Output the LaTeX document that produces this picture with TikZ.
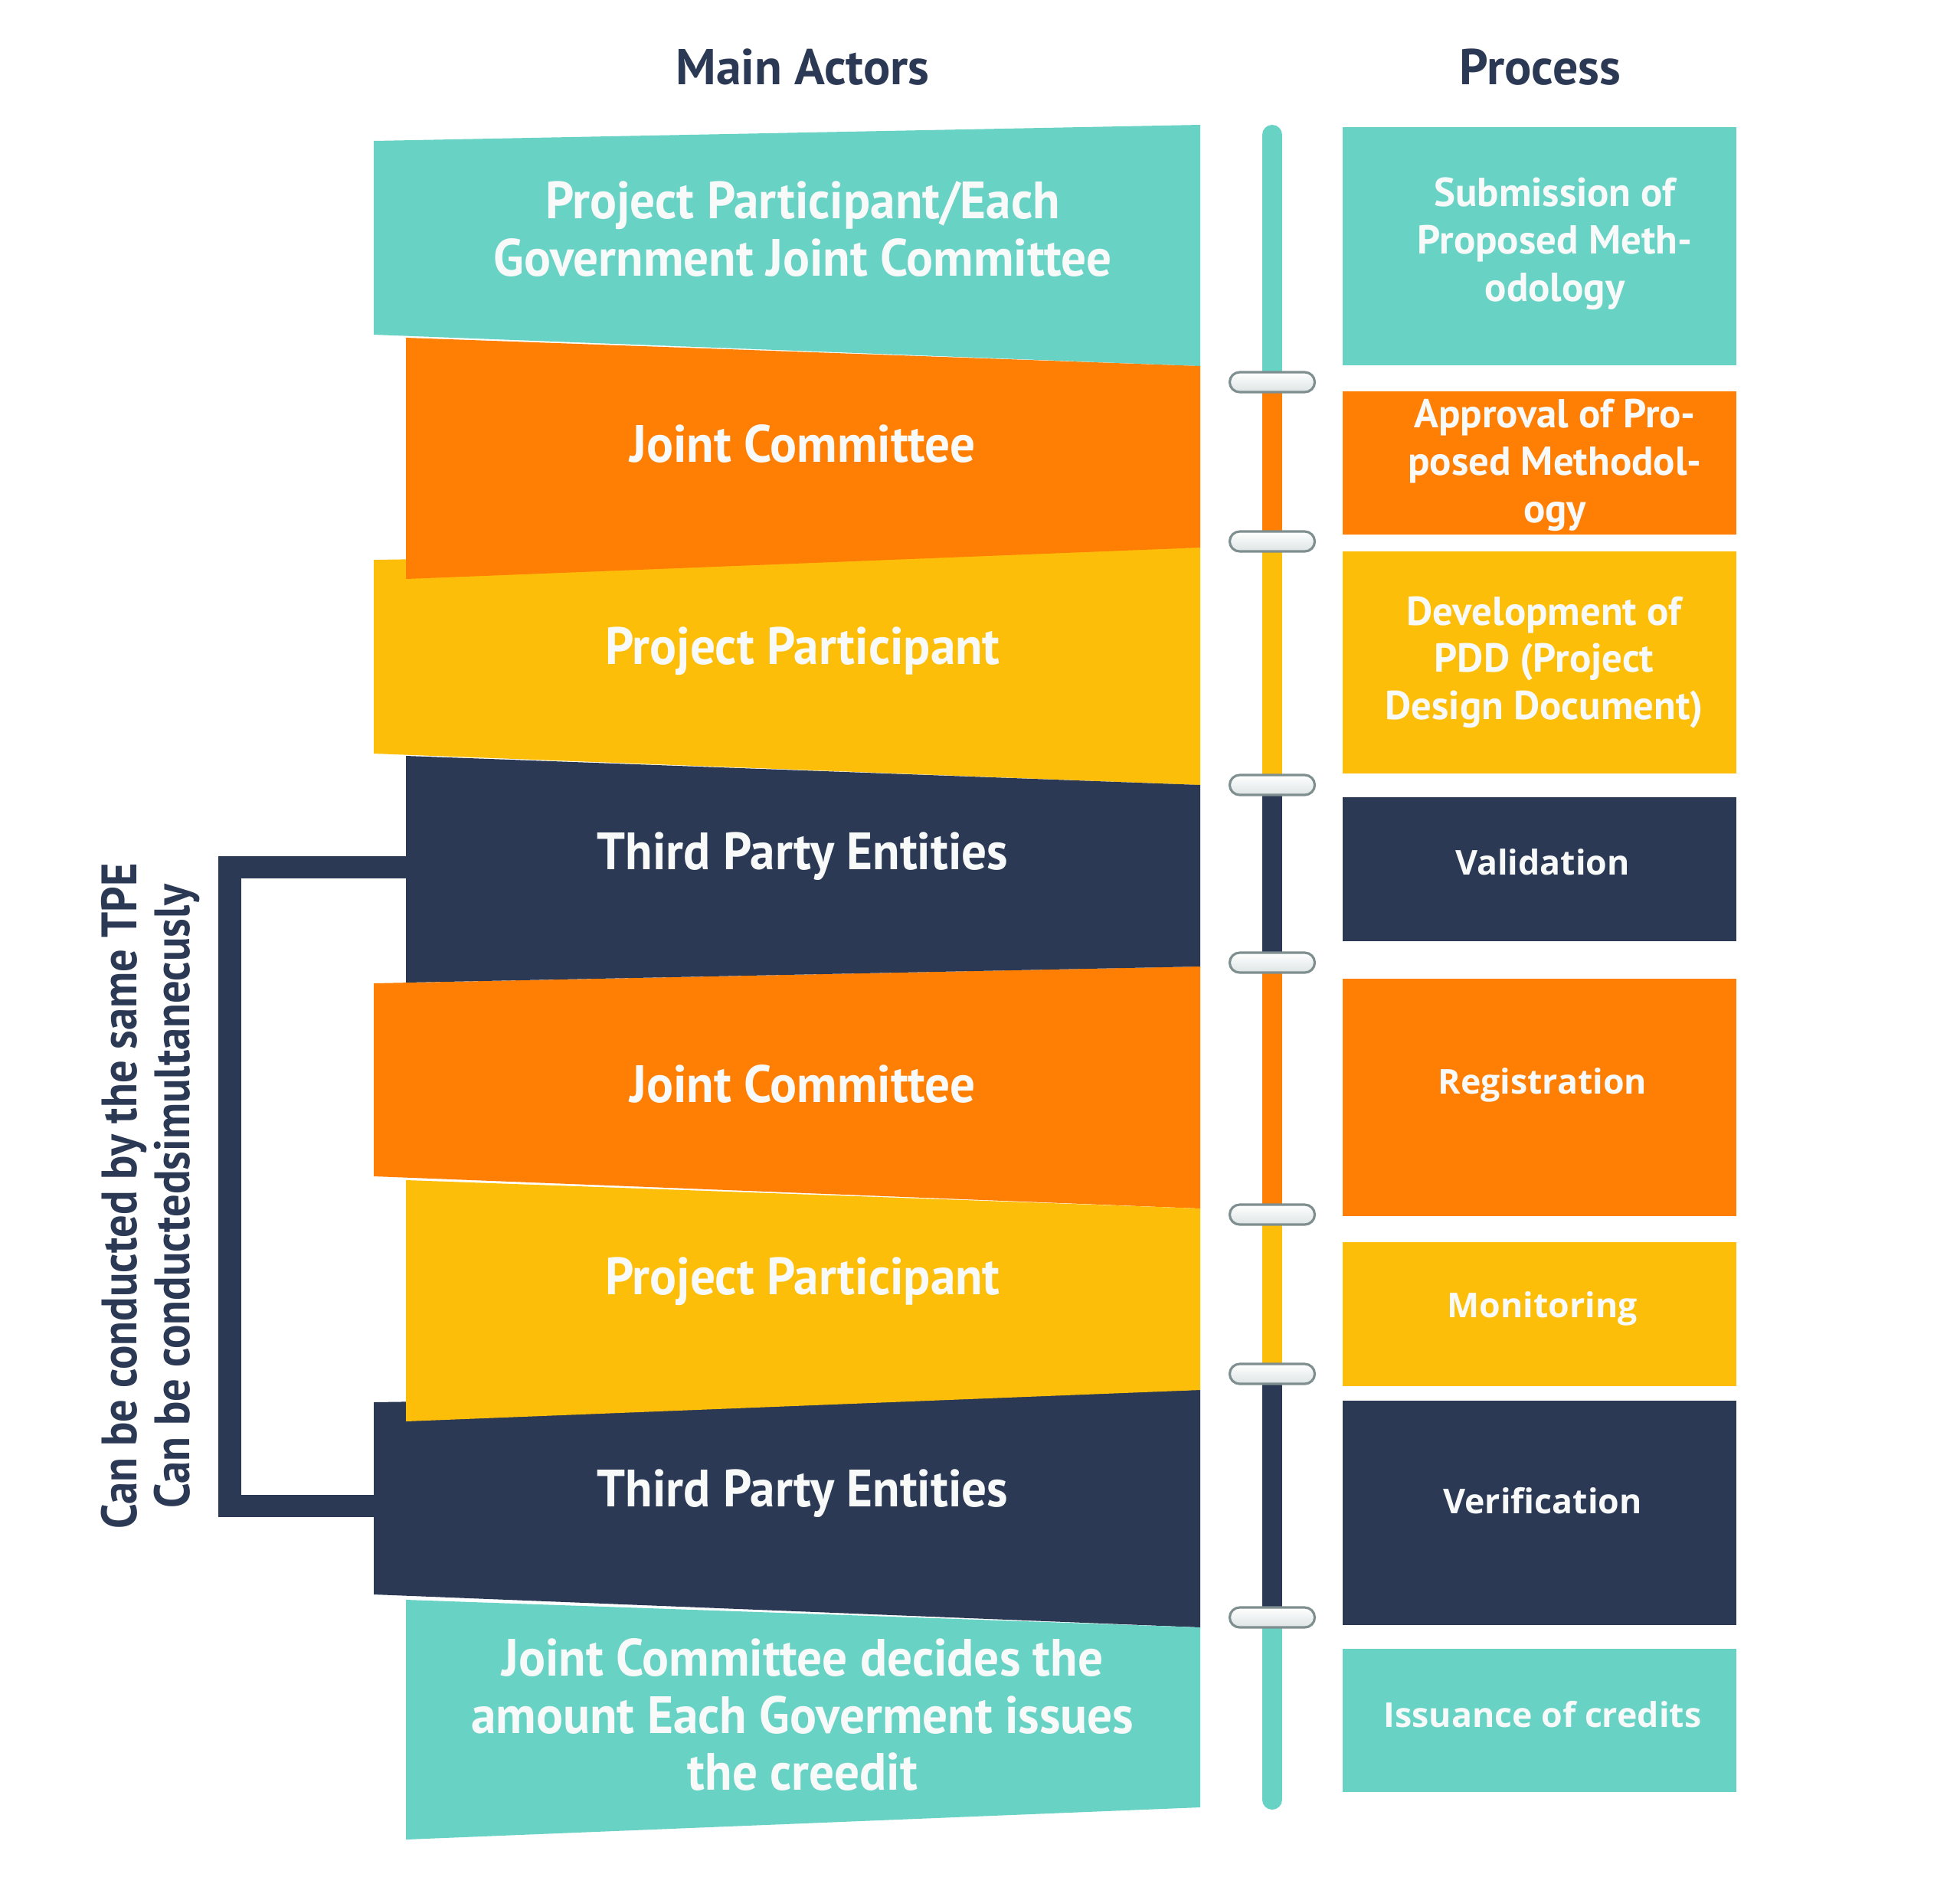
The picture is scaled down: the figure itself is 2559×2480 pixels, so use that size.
\documentclass[tikz,border=0pt]{standalone}
\usepackage{fontspec}
\setmainfont{PT Sans}
\newfontfamily\condf[FakeStretch=0.95]{PT Sans}
\newfontfamily\vertf[FakeStretch=0.90]{PT Sans}
\newfontfamily\opnf{Open Sans}
\definecolor{cTeal}{HTML}{68D3C5}
\definecolor{cOrange}{HTML}{FF7F05}
\definecolor{cYellow}{HTML}{FDBE0A}
\definecolor{cNavy}{HTML}{2B3955}
\definecolor{cWhite}{HTML}{F8FAFA}
\definecolor{cPillLine}{HTML}{7F8E8F}
\definecolor{cPillBot}{HTML}{DDE4E4}
\begin{document}
\begin{tikzpicture}[x=0.01cm,y=-0.01cm,
  title/.style={text=cNavy,font=\bfseries\fontsize{18.7pt}{22pt}\selectfont},
  band/.style={text=cWhite,align=center,font=\condf\bfseries\fontsize{19.5pt}{21.3pt}\selectfont},
  proc/.style={text=cWhite,align=center,font=\bfseries\fontsize{15pt}{17.6pt}\selectfont},
  procw/.style={text=cWhite,align=center,font=\opnf\bfseries\fontsize{12.7pt}{16pt}\selectfont},
  pill/.style={draw=cPillLine,line width=0.9pt,rounded corners=0.13cm,minimum width=1.11cm,minimum height=0.26cm,inner sep=0pt,top color=white,bottom color=cPillBot},
  bracket/.style={draw=cNavy,line width=0.29cm,line join=miter}
]
\useasboundingbox (0,0) rectangle (2559,2480);
\fill[white] (0,0) rectangle (2559,2480);

% titles
\node[title] (tActors) at (1048,88) {Main Actors};
\node[title] (tProcess) at (2011,88) {Process};

% wide bands
\fill[cTeal]   (488,184) -- (1567,163) -- (1567,478) -- (488,437) -- cycle;
\fill[cYellow] (488,731) -- (1567,715) -- (1567,1025) -- (488,984) -- cycle;
\fill[cOrange] (488,1284) -- (1567,1262) -- (1567,1578) -- (488,1536) -- cycle;
\fill[cNavy]   (488,1831) -- (1567,1815) -- (1567,2125) -- (488,2082) -- cycle;
% narrow bands on top
\fill[cOrange] (530,441) -- (1567,478) -- (1567,715) -- (530,756) -- cycle;
\fill[cNavy]   (530,987) -- (1567,1025) -- (1567,1262) -- (530,1283) -- cycle;
\fill[cYellow] (530,1541) -- (1567,1578) -- (1567,1815) -- (530,1856) -- cycle;
\fill[cTeal]   (530,2089) -- (1567,2125) -- (1567,2360) -- (530,2402) -- cycle;

% band texts
\node[band] (a1) at (1048,299) {Project Participant/Each\\Government Joint Committee};
\node[band] (a2) at (1048,579) {Joint Committee};
\node[band] (a3) at (1048,850) {Project Participant};
\node[band] (a4) at (1048,1118) {Third Party Entities};
\node[band] (a5) at (1048,1415) {Joint Committee};
\node[band] (a6) at (1048,1673) {Project Participant};
\node[band] (a7) at (1048,1950) {Third Party Entities};
\node[band] (a8) at (1048,2239) {Joint Committee decides the\\amount Each Goverment issues\\the creedit};

% bracket
\coordinate (b4w) at (530,1132);
\coordinate (b7w) at (488,1966);
\coordinate (brTop) at (300,1132);
\coordinate (brBot) at (300,1966);
\draw[bracket] (b4w) -- (brTop) -- (brBot) -- (b7w);
\node[rotate=90,text=cNavy,align=center,font=\vertf\bfseries\fontsize{18.5pt}{19.6pt}\selectfont] (side) at (196,1562)
  {Can be conducted by the same TPE\\Can be conductedsimultanecusly};

% vertical bar
\draw[cTeal,line width=0.26cm,line cap=round] (1661,176) -- (1661,2350);
\draw[cOrange,line width=0.26cm] (1661,499) -- (1661,707);
\draw[cYellow,line width=0.26cm] (1661,707) -- (1661,1025);
\draw[cNavy,line width=0.26cm] (1661,1025) -- (1661,1257);
\draw[cOrange,line width=0.26cm] (1661,1257) -- (1661,1586);
\draw[cYellow,line width=0.26cm] (1661,1586) -- (1661,1794);
\draw[cNavy,line width=0.26cm] (1661,1794) -- (1661,2112);

% pills
\node[pill] (p1) at (1661,499) {};
\node[pill] (p2) at (1661,707) {};
\node[pill] (p3) at (1661,1025) {};
\node[pill] (p4) at (1661,1257) {};
\node[pill] (p5) at (1661,1586) {};
\node[pill] (p6) at (1661,1794) {};
\node[pill] (p7) at (1661,2112) {};

% process boxes
\fill[cTeal]   (1753,166) rectangle (2267,477);
\fill[cOrange] (1753,511) rectangle (2267,698);
\fill[cYellow] (1753,720) rectangle (2267,1010);
\fill[cNavy]   (1753,1041) rectangle (2267,1229);
\fill[cOrange] (1753,1278) rectangle (2267,1588);
\fill[cYellow] (1753,1622) rectangle (2267,1810);
\fill[cNavy]   (1753,1829) rectangle (2267,2122);
\fill[cTeal]   (1753,2153) rectangle (2267,2340);

\node[proc] (s1) at (2030,318) {Submission of\\Proposed Meth-\\odology};
\node[proc] (s2) at (2030,607) {Approval of Pro-\\posed Methodol-\\ogy};
\node[proc] (s3) at (2016,865) {Development of\\PDD (Project\\Design Document)};
\node[procw] (s4) at (2014,1126) {Validation};
\node[procw] (s5) at (2014,1417) {Registration};
\node[procw] (s6) at (2014,1709) {Monitoring};
\node[procw] (s7) at (2014,1960) {Verification};
\node[procw] (s8) at (2014,2239) {Issuance of credits};
\end{tikzpicture}
\end{document}
